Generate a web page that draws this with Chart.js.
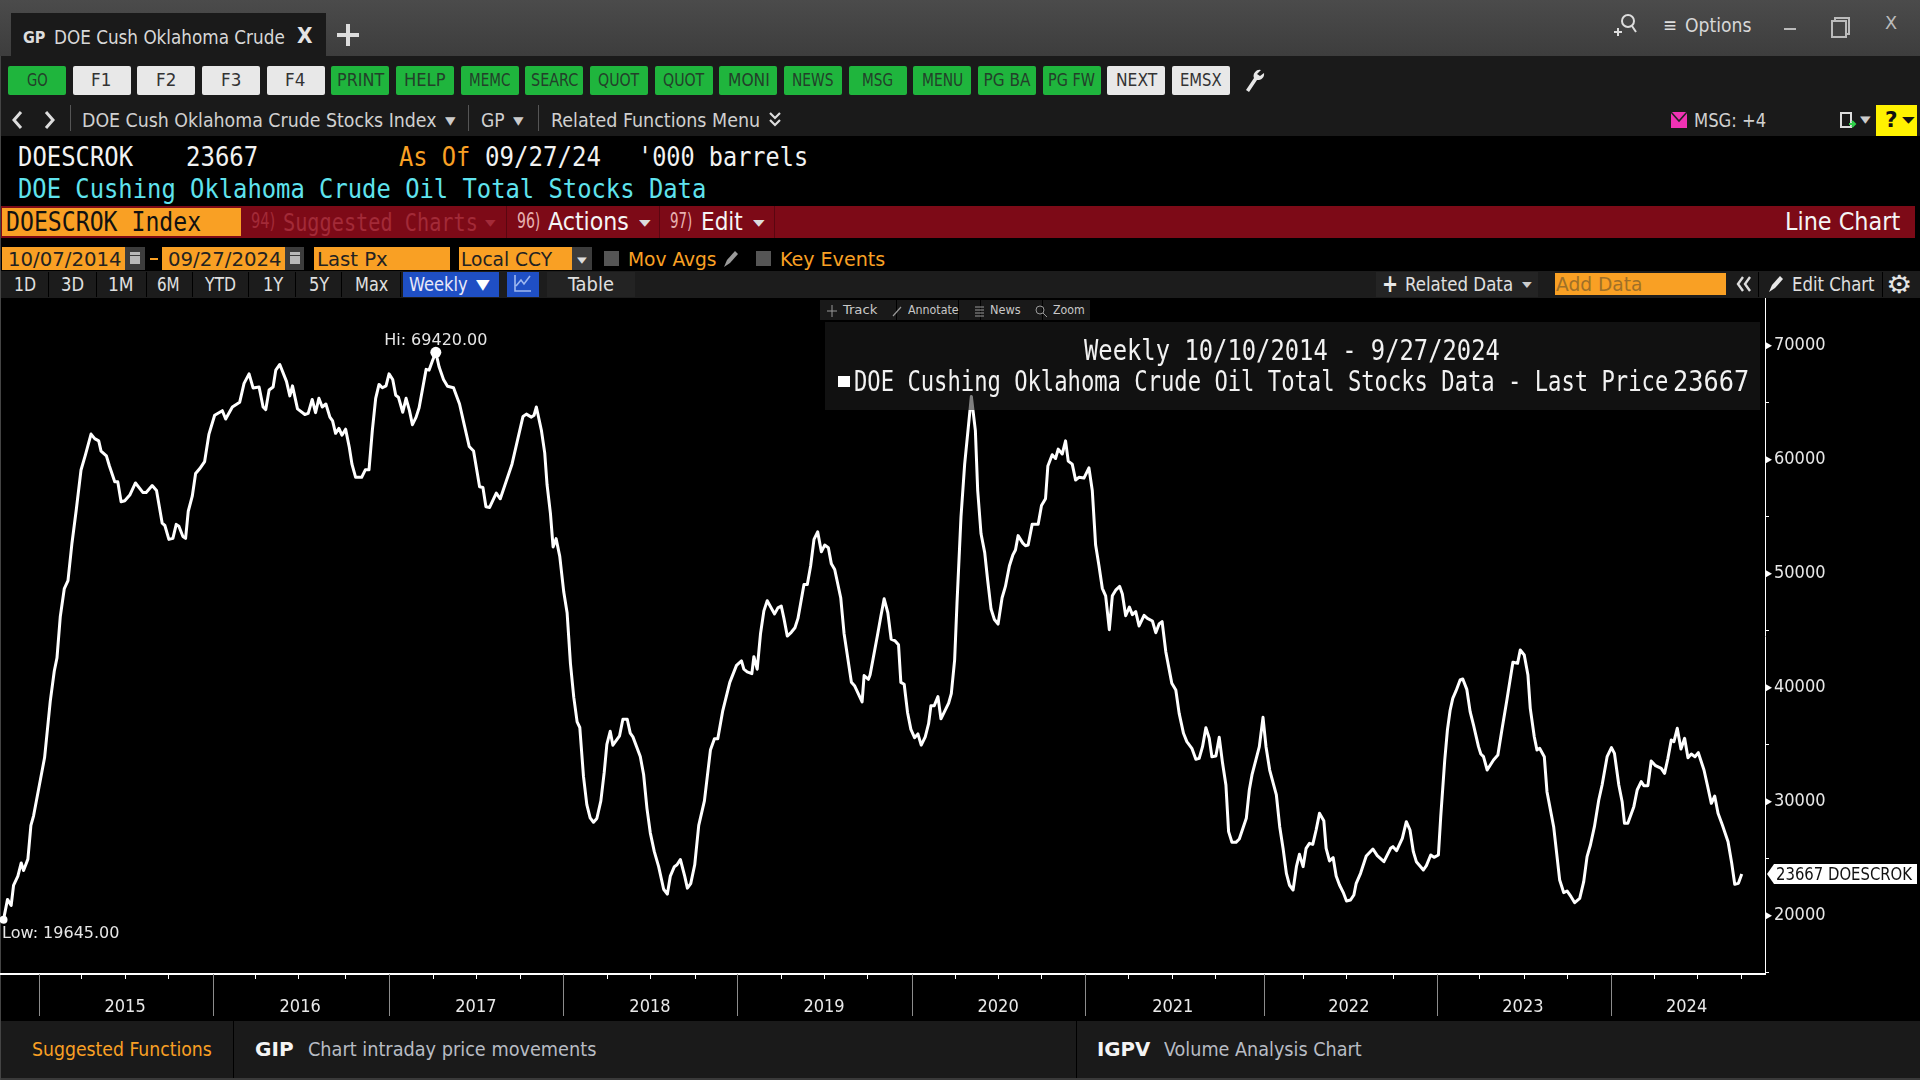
<!DOCTYPE html>
<html><head><meta charset="utf-8"><title>DOE Cushing Oklahoma Crude Oil Total Stocks</title>
<script src="https://cdn.jsdelivr.net/npm/chart.js@4"></script>
<style>
html,body{margin:0;padding:0;background:#000;width:1920px;height:1080px;overflow:hidden}
#ui{position:absolute;left:0;top:0;width:1920px;height:1080px;overflow:hidden;font-family:"DejaVu Sans Condensed","DejaVu Sans",sans-serif}
.b{position:absolute}
.t{position:absolute;white-space:pre;line-height:1;transform-origin:left center}
canvas{position:absolute;left:0;top:298px}
</style></head><body>
<div id="ui"></div>
<canvas id="c" width="1920" height="723"></canvas>
<div id="over" style="position:absolute;left:0;top:0;width:1920px;height:1080px;overflow:hidden;pointer-events:none;font-family:'DejaVu Sans Condensed','DejaVu Sans',sans-serif"></div>
<script>
// ---- chart data ----
const weekPos = [
0,1.2,2.3,3,4.3,5.3,6,7.3,8.2,9,
12.3,14,15.2,16,17,18.2,19.3,20.5,21.8,23.2,
24.5,26.2,27.3,28.5,29.2,30.8,31.7,33.3,34.2,35.2,
36.3,37.8,39.5,41.7,42.7,44.5,45.8,47.5,48.3,49.5,
50.7,51.7,52.5,53.7,54.5,55.3,56.5,57.5,58.7,60.2,
61.5,63.2,65.5,66.5,68.5,70.7,72,73.5,74.7,76.5,
77.7,78.5,79.5,80.7,81.5,82.7,84.7,85.7,86.5,88,
90.2,91.2,92.4,93.4,94.4,95.4,96.5,97.7,98.5,99.4,
100.4,101.3,102.4,103.5,104.3,105.4,107.2,108.3,109.4,110.4,
111.4,112.4,113.4,114.5,115.4,116.5,117.4,118.2,119.5,120.5,
121.5,122.4,123.5,124.4,126.5,127.4,128.4,129.4,130.4,131.7,
132.9,134.7,136.5,137.9,139.4,140.7,142.5,143.5,144.4,145.5,
147.5,148.7,152.2,155.5,156.5,158,158.8,159.5,161,162,
162.7,163.7,164.5,165.4,166.5,167.7,168.7,169.7,170.7,171.7,
172.5,173.6,174.6,175.6,176.6,177.6,178.8,179.8,180.6,181.6,
182.4,184.4,185.4,186.7,187.6,188.4,190.6,191.6,192.6,193.6,
194.8,196.1,197.6,198.7,199.6,200.8,201.6,202.6,203.9,204.7,
205.7,206.9,208.1,209.8,210.8,211.6,212.8,213.8,215.3,217.4,
219.4,220.9,221.6,222.6,224,224.6,225.6,226.6,227.6,228.6,
230.8,231.8,232.8,233.6,234.6,235.8,236.9,237.8,239.6,240.6,
241.6,242.6,243.7,244.8,245.8,246.9,247.8,248.8,250.6,251.6,
253.8,254.8,257,257.6,258.9,259.4,261.6,262.6,263.6,264.7,
265.7,266.9,267.9,268.6,269.6,270.6,271.6,272.7,273.7,274.7,
275.9,276.9,277.6,278.6,279.7,280.6,282.9,283.7,284.7,285.4,
286.6,287.7,289.7,290.9,291.6,292.6,293.7,294.6,295.6,296.6,
297.7,298.9,299.9,301.1,302.1,302.9,303.7,305.1,305.9,306.7,
307.9,309.7,310.7,311.9,312.6,313.9,314.9,315.7,316.9,317.9,
318.7,319.9,320.9,321.9,323.4,324.9,325.9,326.9,327.9,328.9,
329.9,331,331.9,332.9,334.1,334.9,335.9,337,337.9,338.9,
339.9,341.4,342.4,343.9,344.9,345.9,346.8,347.9,349.7,350.9,
351.9,353.2,354.2,355.7,356.9,357.9,358.9,359.9,360.9,361.7,
362.9,363.9,364.9,365.9,366.7,367.7,368.9,369.9,372,372.9,
373.7,375.9,377,377.9,379,381,382,383,384,384.9,
386,387,387.9,389,389.9,390.9,391.9,392.9,393.9,395.2,
395.9,396.9,398,398.9,399.9,401,402,403.2,404.2,404.9,
406.2,407.9,409.9,411.2,413.2,415.2,415.9,417,418.7,419.9,
421,422,422.9,425,425.9,427.2,428.2,429.5,430.2,431.4,
432.2,433,433.8,434.8,436,436.8,438,439,440,441.5,
442.2,443,444.1,446,447.3,448.5,450,451.8,453.2,454,
455.2,456.3,457,458.2,459,459.8,461.2,462,464,465.8,
466.5,467,468,469.2,470.3,471.8,473,474,475,476.2,
477.5,478.5,480,481.3,482.2,483.5,484.5,485.2,486.2,488,
489,490.2,491,492.2,493.2,494.5,496.2,497.2,498.2,499.2,
500,501,502.1,503.2,504.2,505.2,506.3,507.3,509,510,
511.2,512.2,513.2,514.5,516.2,517.3,518.2,519.3,520.3
];
const stocks = [
19645,21430,20900,22650,23480,24630,23970,24960,27930,28760,
33870,38820,41460,42600,46250,48700,49400,52700,55650,59100,
60400,62250,61850,61650,60760,60340,59450,58060,58060,56310,
56400,56900,57960,57130,57130,57730,57300,54430,54230,53010,
53100,54330,54165,53270,53100,55480,56800,58785,59200,59840,
62250,63900,64300,63570,64630,65050,66700,67530,66300,66375,
64630,64400,66110,66375,67860,68355,66870,65600,66475,64460,
63970,64065,65290,64130,65385,64625,64890,63735,63400,62315,
62745,62150,62680,61095,59610,58455,58455,59115,59115,62580,
65385,66605,66310,66475,67530,67035,65650,65485,64165,65385,
64330,63075,63735,64560,67925,67860,68685,69420,68125,67035,
66440,66310,64890,63075,61160,60765,57630,57565,55880,55815,
57070,56575,59610,63800,64000,63735,63900,64625,62580,60600,
57800,55320,52350,53075,51525,48390,46575,42120,39150,37000,
36510,32220,29745,28590,28200,28525,30075,32550,35025,36180,
34960,35785,37235,37235,36015,35685,33970,32385,29415,27270,
25620,24300,22320,21890,23475,24300,24465,24930,23475,22420,
22815,24465,27930,30075,32550,34530,35520,35520,37995,40470,
41955,42350,41625,41395,41230,42715,41625,44760,46740,47630,
46475,47005,47170,46080,44530,44860,45255,46080,49050,49050,
50700,53010,53670,51920,52515,52285,50865,50370,47895,44760,
40470,40140,38755,41065,40735,41130,44595,46245,47800,46575,
44265,44100,43770,40470,40305,37830,36345,35620,35950,34960,
35685,36840,38425,38425,39215,37270,38655,39480,42450,47400,
54990,59610,65550,62580,57300,53500,51850,49380,46900,45980,
45585,47895,48885,50700,51625,52085,53340,52680,52450,52515,
54330,54330,55980,56575,59445,60435,60105,60930,60500,61655,
59875,59610,58225,58455,58390,59280,57300,52515,50700,48720,
48060,45090,48060,48555,48885,48225,46310,47070,46410,46675,
45420,46345,46080,45850,44825,45585,45795,43160,40384,39800,
37750,36000,35267,34680,33717,33800,34828,36495,35560,33950,
34010,35647,33366,31465,27372,26437,26437,26730,28540,31027,
32343,34828,37400,34828,32780,30590,27810,25910,23716,22694,
22255,24300,25384,24300,25910,26350,26260,27518,28980,28337,
25910,24800,25091,23483,22694,22050,21290,21378,21816,22840,
23716,25238,25852,25267,24740,25910,26057,25705,26788,28250,
27518,25618,24740,24010,24390,25325,25120,25325,28688,33660,
36290,38000,39068,39740,40676,40764,39857,37900,36730,34828,
34185,33950,32780,33660,34097,36290,38922,42226,42138,43308,
42870,41115,38190,35705,34536,34682,33950,30880,27810,23134,
22490,22020,22168,21670,21144,21524,22986,25180,26202,27810,
30150,31466,33950,34740,34243,31466,30003,28103,28103,29565,
31027,31758,31407,31407,33570,33162,32928,32490,33805,35413,
35267,36437,34623,35560,33863,34185,33950,34302,32780,31465,
29856,30500,28980,27957,26495,24595,22752,22840,23667
];
const yearLabels = ["2015","2016","2017","2018","2019","2020","2021","2022","2023","2024"];
const yearLabelWeeks = [36.4,88.8,141.4,193.5,245.6,297.7,350,402.7,454.8,503.8];
const yearStartWeeks = [10.5,62.6,115.5,167.6,219.6,271.9,323.7,377.2,429.2,481.2];
const quarterWeeks = [23.3,36.5,49.4,75.3,88.4,102.5,128.7,141.6,154.7,180.8,193.6,207,232.8,245.7,258.5,284.9,297.7,310.7,336.7,349.8,362.9,389.1,402,416.1,441.9,455.3,468.2,494.1,507.2,520.3];
const yTickValues = [15000,20000,25000,30000,35000,40000,45000,50000,55000,60000,65000,70000];
const yLabelled = [20000,30000,40000,50000,60000,70000];
const seriesTicker = "DOESCROK";
const lastValue = stocks[stocks.length-1];

// ---- chart ----
const hiIdx = stocks.indexOf(Math.max(...stocks));
const loIdx = stocks.indexOf(Math.min(...stocks));
const SANS = "'DejaVu Sans Condensed','DejaVu Sans',sans-serif";
const PLOT_RIGHT=1765, PLOT_BOTTOM=676;
const markers = {
  id:'markers',
  afterLayout(ch){
    const X=ch.scales.x,Y=ch.scales.y,A=ch.chartArea;
    A.left=0;A.top=0;A.right=PLOT_RIGHT;A.bottom=PLOT_BOTTOM;A.width=PLOT_RIGHT;A.height=PLOT_BOTTOM;
    X.left=0;X.right=PLOT_RIGHT;X.width=PLOT_RIGHT;X.top=PLOT_BOTTOM;X.bottom=723;X.height=47;X.configure();
    Y.top=0;Y.bottom=PLOT_BOTTOM;Y.height=PLOT_BOTTOM;Y.left=PLOT_RIGHT;Y.right=1920;Y.width=155;Y.configure();
  },
  afterDraw(ch){
    const c=ch.ctx,X=ch.scales.x,Y=ch.scales.y;
    c.save();
    c.strokeStyle='#8c8c8c';c.lineWidth=1;
    yearStartWeeks.forEach(w=>{const p=Math.round(X.getPixelForValue(w))+.5;c.beginPath();c.moveTo(p,Y.bottom);c.lineTo(p,Y.bottom+42);c.stroke();});
    c.fillStyle='#fff';
    yLabelled.forEach(v=>{const p=Y.getPixelForValue(v);c.beginPath();c.moveTo(X.right,p-4);c.lineTo(X.right+7,p);c.lineTo(X.right,p+4);c.closePath();c.fill();});
    c.font="16px 'DejaVu Sans'";c.fillStyle='#e6e6e6';c.textBaseline='middle';
    const hx=X.getPixelForValue(weekPos[hiIdx]),hy=Y.getPixelForValue(stocks[hiIdx]);
    c.textAlign='center';c.fillText('Hi: '+stocks[hiIdx].toFixed(2),hx,hy-11);
    const ly=Y.getPixelForValue(stocks[loIdx]);
    c.textAlign='left';c.fillText('Low: '+stocks[loIdx].toFixed(2),2,ly+14);
    const py=Y.getPixelForValue(lastValue),bx=X.right+2;
    c.fillStyle='#fff';c.beginPath();c.moveTo(bx,py);c.lineTo(bx+7,py-10);c.lineTo(1917,py-10);c.lineTo(1917,py+10);c.lineTo(bx+7,py+10);c.closePath();c.fill();
    c.fillStyle='#111';c.font="18px "+SANS;c.textAlign='left';
    c.fillText(lastValue+' '+seriesTicker,bx+9,py+1,136);
    c.restore();
  }
};
new Chart(document.getElementById('c'),{
  type:'line',
  data:{datasets:[{
    data:weekPos.map((w,i)=>({x:w,y:stocks[i]})),
    borderColor:'#fff',borderWidth:3,tension:0,clip:false,borderJoinStyle:'round',
    pointRadius:ctx=>ctx.dataIndex===hiIdx?5.5:ctx.dataIndex===loIdx?4:0,
    pointBackgroundColor:'#fff',pointBorderWidth:0
  }]},
  options:{
    responsive:false,animation:false,devicePixelRatio:1,
    layout:{padding:0},
    plugins:{legend:{display:false},tooltip:{enabled:false},title:{display:false}},
    scales:{
      x:{type:'linear',min:-1.05,max:527.26,
        afterFit(s){s.height=47;},
        afterBuildTicks(s){s.ticks=[...new Set([...quarterWeeks,...yearLabelWeeks])].sort((a,b)=>a-b).map(v=>({value:v}));},
        border:{color:'#fff',width:2},
        grid:{drawOnChartArea:false,tickLength:5,tickWidth:1,tickColor:ctx=>ctx.tick&&quarterWeeks.includes(ctx.tick.value)?'#fff':'rgba(0,0,0,0)'},
        ticks:{autoSkip:false,maxRotation:0,color:'#e8e8e8',padding:18,font:{family:SANS,size:18},
          callback(v){const i=yearLabelWeeks.indexOf(v);return i>=0?yearLabels[i]:'';}}
      },
      y:{type:'linear',position:'right',min:14886,max:74186,
        afterFit(s){s.width=155;},
        afterBuildTicks(s){s.ticks=yTickValues.map(v=>({value:v}));},
        border:{color:'#fff',width:1},
        grid:{drawOnChartArea:false,tickLength:4,tickWidth:1,tickColor:'#fff'},
        ticks:{autoSkip:false,color:'#e8e8e8',padding:5,font:{family:SANS,size:18},
          callback(v){return yLabelled.includes(v)?String(v):'';}}
      }
    }
  },
  plugins:[markers]
});

// ---- terminal chrome ----
const ui=document.getElementById('ui'),over=document.getElementById('over');
const MONO="'DejaVu Sans Mono',monospace";
function R(x,y,w,h,bg,parent,extra){const d=document.createElement('div');d.className='b';d.style.cssText=`left:${x}px;top:${y}px;width:${w}px;height:${h}px;background:${bg};`+(extra||'');(parent||ui).appendChild(d);return d;}
const fits=[];
function T(s,x1,x2,cy,size,color,o){o=o||{};const d=document.createElement('span');d.className='t';d.textContent=s;
  d.style.cssText=`left:${x1}px;top:${cy-size/2}px;font-size:${size}px;color:${color};`+(o.mono?`font-family:${MONO};`:'')+(o.bold?'font-weight:700;':'')+(o.sans?"font-family:'DejaVu Sans';":'');
  (o.p||ui).appendChild(d);fits.push([d,x2-x1]);return d;}
function fit(){fits.forEach(([d,w])=>{const n=d.offsetWidth;if(n>0)d.style.transform=`scaleX(${w/n})`;});}
function svg(x,y,w,h,inner,parent){const d=document.createElement('div');d.className='b';d.style.cssText=`left:${x}px;top:${y}px;width:${w}px;height:${h}px`;d.innerHTML=`<svg width="${w}" height="${h}" viewBox="0 0 ${w} ${h}">${inner}</svg>`;(parent||ui).appendChild(d);}
const ORANGE='#f9a024',GRAY='#cfcfcf',GREEN='#1fb53d';

// title bar
R(0,0,1920,56,'linear-gradient(#4b4b4b,#3d3d3d)');
R(0,56,1920,80,'#1a1a1a');
R(11,13,315,43,'#1a1a1a');
T('GP',23,45,38,16,'#ddd',{bold:true});
T('DOE Cush Oklahoma Crude',54,285,37,20,'#d8d8d8');
T('X',297,313,36,21,'#e4e4e4',{bold:true});
R(346,24,4,22,'#ddd');R(337,33,22,4,'#ddd');
svg(1612,11,26,28,'<circle cx="16" cy="10" r="6" fill="none" stroke="#ddd" stroke-width="2"/><path d="M20 15l4 6M2 21h8M6 17v8" stroke="#ddd" stroke-width="2"/>');
T('≡',1663,1677,25,20,'#ddd');
T('Options',1685,1751,25,20,'#d8d8d8');
R(1784,28,12,2,'#bbb');
R(1834,17,12,14,'transparent',null,'border:2px solid #bbb');R(1831,20,12,14,'#444',null,'border:2px solid #bbb');
T('X',1885,1897,23,18,'#bbb');

// function buttons
const fnButtons=[['GO',0],['F1',1],['F2',1],['F3',1],['F4',1],['PRINT',0],['HELP',0],['MEMC',0],['SEARC',0],['QUOT',0],['QUOT',0],['MONI',0],['NEWS',0],['MSG',0],['MENU',0],['PG BA',0],['PG FW',0],['NEXT',1],['EMSX',1]];
fnButtons.forEach((b,i)=>{const x=8+i*64.67;R(x,66,58,29,b[1]?'#e8e8e8':GREEN,null,'border-radius:2px');
  const w=Math.min(b[0].length*10.4,47),cx=x+29;T(b[0],cx-w/2,cx+w/2,80,17,b[1]?'#333':'#23402a');});
svg(1243,68,22,26,'<path d="M18 2a6 6 0 0 0-7 8L3 22l3 2 8-12a6 6 0 0 0 7-7l-4 3-3-2z" fill="#e8e8e8"/>');

// nav row
svg(10,110,14,20,'<path d="M11 2L4 10l7 8" fill="none" stroke="#ddd" stroke-width="3"/>');
svg(43,110,14,20,'<path d="M3 2l7 8-7 8" fill="none" stroke="#ddd" stroke-width="3"/>');
R(70,105,1,26,'#555');
T('DOE Cush Oklahoma Crude Stocks Index',82,436,120,19,'#d0d0d0');
T('▾',445,456,120,17,'#ccc');R(468,105,1,26,'#555');
T('GP',481,505,120,19,'#d0d0d0');T('▾',513,524,120,17,'#ccc');R(538,105,1,26,'#555');
T('Related Functions Menu',551,760,120,19,'#d0d0d0');
svg(768,111,14,18,'<path d="M2 2l5 5 5-5M2 9l5 5 5-5" fill="none" stroke="#ddd" stroke-width="2.2"/>');
R(1671,112,16,16,'#f032b4');svg(1671,112,16,16,'<path d="M0 0l8 9 8-9" fill="none" stroke="#222" stroke-width="1.5"/>');
T('MSG: +4',1694,1766,120,19,'#d0d0d0');
svg(1840,112,18,18,'<rect x="1" y="1" width="10" height="14" fill="none" stroke="#ddd" stroke-width="2"/><path d="M9 12h6M12 9l3 3-3 3" stroke="#2fd24a" stroke-width="2" fill="none"/>');
T('▾',1860,1871,119,15,'#ccc');
R(1898,105,19,31,'#fff200');R(1876,105,22,31,'#fff200');T('?',1885,1897,120,22,'#111',{bold:true});T('▾',1902,1914,119,14,'#111');

// header text
T('DOESCROK',18,133,156,27,'#f2f2f2',{mono:true});
T('23667',186,258,156,27,'#f2f2f2',{mono:true});
T('As Of',399,470,156,27,ORANGE,{mono:true});
T('09/27/24',485,601,156,27,'#f2f2f2',{mono:true});
T("'000 barrels",638,808,156,27,'#f2f2f2',{mono:true});
T('DOE Cushing Oklahoma Crude Oil Total Stocks Data',18,706,188,27,'#5fe3ee',{mono:true});

// red bar
R(0,206,1915,32,'#7d0a17');
R(2,208,239,28,ORANGE);
T('DOESCROK Index',6,201,222,26,'#111',{mono:true});
R(506,206,1,32,'#5a0610');R(659,206,1,32,'#5a0610');R(774,206,1,32,'#5a0610');
T('94)',251,275,221,21,'#a32a38');T('Suggested Charts',283,478,222,25,'#a32a38',{mono:true});T('▾',485,495,222,14,'#a32a38');
T('96)',517,540,221,21,'#e7b0b0');T('Actions',548,629,222,24,'#f5f5f5');T('▾',639,650,222,14,'#ddd');
T('97)',670,692,221,21,'#e7b0b0');T('Edit',701,743,222,24,'#f5f5f5');T('▾',753,764,222,14,'#ddd');
T('Line Chart',1785,1900,222,24,'#f5f5f5');

// controls row
R(2,247,123,23,ORANGE);T('10/07/2014',8,122,259,20,'#222');
R(125,247,20,23,'#3c3c3c');R(130,252,10,12,'#b9b9b9');R(130,255,10,1,'#3c3c3c');
R(150,258,8,2,ORANGE);
R(162,247,123,23,ORANGE);T('09/27/2024',168,282,259,20,'#222');
R(285,247,19,23,'#3c3c3c');R(290,252,10,12,'#b9b9b9');R(290,255,10,1,'#3c3c3c');
R(314,247,136,23,ORANGE);T('Last Px',317,388,259,20,'#222');
R(459,247,113,23,ORANGE);T('Local CCY',461,552,259,20,'#222');
R(572,247,20,23,'#3c3c3c');T('▾',577,587,259,13,'#ddd');
R(604,251,15,15,'#555');T('Mov Avgs',628,716,259,20,ORANGE);
svg(722,249,18,20,'<path d="M2 18l3-7 8-9 3 3-8 9z" fill="#9a9a9a"/>');
R(756,251,15,15,'#555');T('Key Events',780,885,259,20,ORANGE);

// range buttons row
R(0,271,1920,27,'#1c1c1c');
const rangeLabels=[['1D',14,36],['3D',61,84],['1M',108,134],['6M',157,180],['YTD',205,236],['1Y',263,283],['5Y',309,329],['Max',355,388]];
rangeLabels.forEach(r=>{T(r[0],r[1],r[2],284,19,'#e0e0e0');R(r[2]+12,272,1,25,'#000');});
R(403,272,96,25,'#1f4fc4');T('Weekly',409,468,284,19,'#e8e8f8');T('▼',476,490,284,14,'#fff');
R(507,272,32,25,'#1f4fc4');svg(513,274,20,20,'<path d="M2 1v16h16M3 12l5-6 3 4 6-8" fill="none" stroke="#9fb8f0" stroke-width="1.6"/>');
R(547,272,88,25,'#232323');T('Table',568,614,284,19,'#e0e0e0');
R(1376,272,162,25,'#242424');T('+',1382,1398,284,24,'#e8e8e8',{bold:true});T('Related Data',1405,1513,284,19,'#e0e0e0');T('▾',1522,1531,284,12,'#ccc');
R(1555,273,171,22,ORANGE);T('Add Data',1556,1642,284,20,'#a07028');
svg(1735,275,18,18,'<path d="M8 2L3 9l5 7M15 2l-5 7 5 7" fill="none" stroke="#ddd" stroke-width="2.4"/>');
R(1758,272,1,25,'#000');R(1882,272,1,25,'#000');
svg(1767,274,18,20,'<path d="M2 18l3-7 8-9 3 3-8 9z" fill="#e8e8e8"/>');
T('Edit Chart',1792,1875,284,19,'#e0e0e0');
T('⚙',1886,1912,284,25,'#e4e4e4',{sans:true});

// footer
R(0,1021,1920,57,'#1a1a1a');R(0,1078,1920,2,'#3a3a3a');
T('Suggested Functions',32,212,1049,19,ORANGE);
R(233,1021,1,57,'#000');
T('GIP',255,294,1049,19,'#f4f4f4',{bold:true,sans:true});
T('Chart intraday price movements',308,596,1049,19,'#b8bcc4');
R(1076,1021,1,57,'#000');
T('IGPV',1097,1150,1049,19,'#f4f4f4',{bold:true,sans:true});
T('Volume Analysis Chart',1164,1362,1049,19,'#b8bcc4');
R(0,56,1,1024,'#444');

// overlay: mini toolbar and semi-transparent legend above the chart
R(820,300,270,20,'#191919',over);
[896,958,980,1042].forEach(x=>R(x,300,1,20,'#000',over));
svg(826,303,13,14,'<path d="M6 1v12M1 7h10" stroke="#999" stroke-width="1"/>',over);
svg(891,303,13,14,'<path d="M2 12l8-9" stroke="#999" stroke-width="1.2"/>',over);
svg(973,303,13,14,'<path d="M2 3h9M2 6h9M2 9h9M2 12h9" stroke="#999" stroke-width="1"/>',over);
svg(1034,303,14,14,'<circle cx="6" cy="6" r="4" fill="none" stroke="#999"/><path d="M9 9l4 4" stroke="#999"/>',over);
T('Track',843,877,309,13,'#c8c8c8',{p:over});T('Annotate',908,959,309,13,'#c8c8c8',{p:over});T('News',990,1021,309,13,'#c8c8c8',{p:over});T('Zoom',1053,1085,309,13,'#c8c8c8',{p:over});
R(825,322,935,88,'rgba(30,30,30,.565)',over);
T('Weekly 10/10/2014 - 9/27/2024',1084,1500,351,28,'#f2f2f2',{p:over,mono:true});
R(838,376,12,11,'#fff',over);
T('DOE Cushing Oklahoma Crude Oil Total Stocks Data - Last Price',854,1668,382,28,'#f2f2f2',{p:over,mono:true});
T('23667',1673,1749,382,28,'#f2f2f2',{p:over,mono:true});
fit();
if(document.fonts&&document.fonts.ready)document.fonts.ready.then(fit);
</script>
</body></html>
